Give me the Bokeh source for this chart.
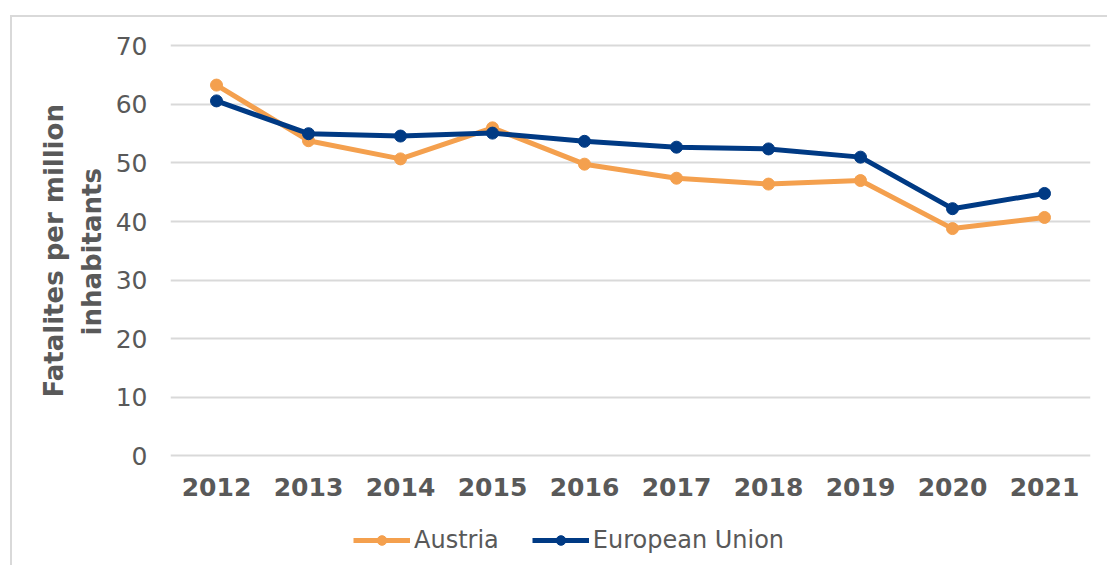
from bokeh.plotting import figure
from bokeh.models import (Range1d, FactorRange, Legend, LegendItem, FixedTicker, Title)
from bokeh.embed import file_html
from bokeh.resources import INLINE

years = ["2012", "2013", "2014", "2015", "2016", "2017", "2018", "2019", "2020", "2021"]
austria = [63.3, 53.8, 50.7, 56.0, 49.8, 47.4, 46.4, 47.0, 38.8, 40.7]
eu = [60.6, 55.0, 54.6, 55.1, 53.7, 52.7, 52.4, 51.0, 42.2, 44.8]
y_ticks = [0, 10, 20, 30, 40, 50, 60, 70]

FONT = "DejaVu Sans"
GREY = "#595959"
ORANGE = "#F4A04E"
NAVY = "#003A84"

p = figure(width=1097, height=550,
           x_range=FactorRange(factors=years, range_padding=0),
           y_range=Range1d(-19.06, 70.4),
           output_backend="svg", toolbar_location=None,
           min_border_left=158, min_border_right=19,
           min_border_top=26, min_border_bottom=0)
p.styles = {"border-left": "2px solid #d9d9d9", "border-top": "2px solid #d9d9d9",
            "margin-left": "10px", "margin-top": "15px"}
p.outline_line_color = None
p.background_fill_color = "white"
p.border_fill_color = "white"

p.xgrid.visible = False
p.ygrid.grid_line_color = "#d9d9d9"
p.ygrid.grid_line_width = 2
p.ygrid.ticker = FixedTicker(ticks=y_ticks)
p.yaxis.ticker = FixedTicker(ticks=y_ticks)

for ax in (p.xaxis[0], p.yaxis[0]):
    ax.axis_line_color = None
    ax.major_tick_line_color = None
    ax.minor_tick_line_color = None
    ax.major_label_text_font = FONT
    ax.major_label_text_font_size = "25px"
    ax.major_label_text_color = GREY

p.xaxis.fixed_location = 0
p.xaxis.major_label_text_font_style = "bold"
p.xaxis.major_label_standoff = 16
p.yaxis.major_label_standoff = 17

t_inner = Title(text="inhabitants", align="left", offset=232, standoff=12,
                text_font=FONT, text_font_size="26px", text_font_style="bold",
                text_color=GREY)
t_outer = Title(text="Fatalites per million", align="left", offset=170, standoff=0,
                text_font=FONT, text_font_size="26px", text_font_style="bold",
                text_color=GREY)
p.add_layout(t_inner, "left")
p.add_layout(t_outer, "left")

l1 = p.line(years, austria, line_color=ORANGE, line_width=5)
s1 = p.scatter(years, austria, marker="circle", size=12, fill_color=ORANGE, line_color=ORANGE)
l2 = p.line(years, eu, line_color=NAVY, line_width=5)
s2 = p.scatter(years, eu, marker="circle", size=12, fill_color=NAVY, line_color=NAVY)

legend = Legend(items=[LegendItem(label="Austria", renderers=[l1, s1]),
                       LegendItem(label="European Union", renderers=[l2, s2])],
                orientation="horizontal", location=(183, 13),
                glyph_width=57, glyph_height=24, label_height=24,
                label_standoff=4, spacing=33, padding=0, margin=0,
                label_text_font=FONT, label_text_font_size="24px",
                label_text_color=GREY,
                background_fill_alpha=0, border_line_color=None)
p.add_layout(legend)

open("out.html", "w").write(file_html(p, INLINE))
